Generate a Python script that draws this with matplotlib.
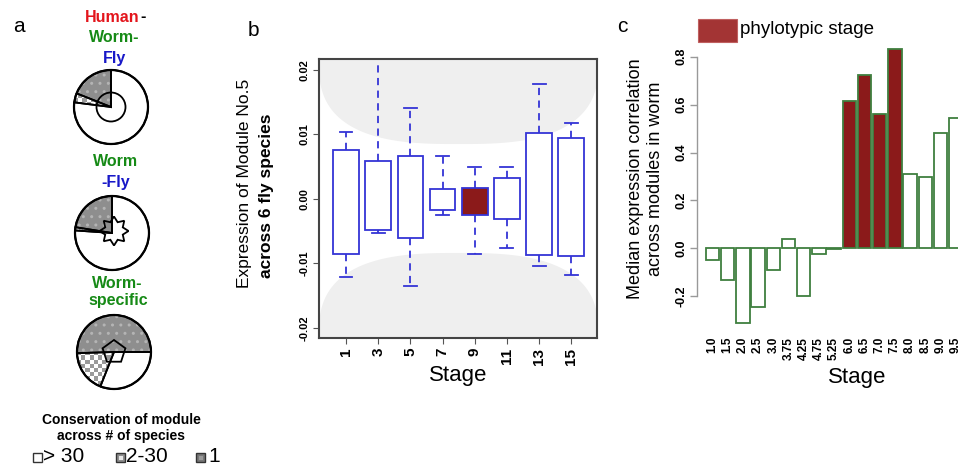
import numpy as np
import matplotlib
matplotlib.use("Agg")
import matplotlib.pyplot as plt
from matplotlib.patches import Wedge, Circle, Polygon, Rectangle, PathPatch
from matplotlib.path import Path

plt.rcParams['font.family'] = ['Liberation Sans', 'DejaVu Sans']
plt.rcParams['hatch.linewidth'] = 1.0

# ---------------- data ----------------
# panel a: sector fractions of each pie (gray dotted = 1 species, checker = 2-30, white = >30)
pie_names = ["Human-Worm-Fly", "Worm-Fly", "Worm-specific"]
pie_one = [0.19, 0.225, 0.505]
pie_mid = [0.04, 0.014, 0.185]
pie_many = [0.77, 0.761, 0.31]
legend_labels = ["> 30", "2-30", "1"]

# panel b: boxplot statistics per fly stage
stages_b = ["1", "3", "5", "7", "9", "11", "13", "15"]
whis_hi = [0.0103, 0.0235, 0.0141, 0.0066, 0.0050, 0.0050, 0.0178, 0.0117]
box_q3 = [0.0075, 0.0058, 0.0067, 0.0016, 0.0017, 0.0032, 0.0102, 0.0095]
box_q1 = [-0.0086, -0.0049, -0.0061, -0.0017, -0.0025, -0.0032, -0.0087, -0.0088]
whis_lo = [-0.0122, -0.0053, -0.0135, -0.0025, -0.0085, -0.0077, -0.0105, -0.0119]
phylo_b = ["9"]

# panel c: median expression correlation per worm stage
stages_c = ["1.0", "1.5", "2.0", "2.5", "3.0", "3.75", "4.25", "4.75", "5.25",
            "6.0", "6.5", "7.0", "7.5", "8.0", "8.5", "9.0", "9.5"]
corr_c = [-0.049, -0.132, -0.313, -0.244, -0.091, 0.038, -0.199, -0.025, -0.004,
          0.616, 0.724, 0.561, 0.832, 0.309, 0.299, 0.480, 0.545]
phylo_c = ["6.0", "6.5", "7.0", "7.5"]

# ---------------- figure ----------------
W, H = 958, 468
fig = plt.figure(figsize=(W / 100, H / 100), dpi=100)


def frect(l, t, r, b):
    return [l / W, 1 - b / H, (r - l) / W, (b - t) / H]


RED = '#e3151c'
GREEN = '#168a16'
BLUE = '#1818c8'
DARKRED = '#8b1a1a'

# ---------------- panel a ----------------
axa = fig.add_axes([0, 0, 235 / W, 1])
axa.set_xlim(0, 235)
axa.set_ylim(0, H)
axa.axis('off')


def Y(y):
    return H - y


def checker_fill(ax, cx, cy, r, clip, size=4.2):
    n = int(2 * r / size) + 2
    for i in range(n):
        for j in range(n):
            if (i + j) % 2 == 0:
                x0 = cx - r + i * size
                y0 = cy - r + j * size
                sq = Rectangle((x0, y0), size, size, facecolor='#9a9a9a',
                               edgecolor='none', zorder=2)
                ax.add_patch(sq)
                sq.set_clip_path(clip)


pie_centers = [(111, 107), (112, 233), (114, 352)]
pie_r = 37
pie_start = [90, 90, 0]
for k in range(3):
    cx, cy = pie_centers[k][0], Y(pie_centers[k][1])
    fr = [pie_one[k], pie_mid[k], pie_many[k]]
    a0 = pie_start[k]
    a1 = a0 + 360 * fr[0]
    a2 = a1 + 360 * fr[1]
    a3 = a2 + 360 * fr[2]
    # gray dotted sector
    wg = Wedge((cx, cy), pie_r, a0, a1, facecolor='#8e8e8e', edgecolor='none', zorder=1)
    axa.add_patch(wg)
    wh = Wedge((cx, cy), pie_r, a0, a1, facecolor='none', edgecolor='#b4b4b4',
               hatch='..', linewidth=0, zorder=1.5)
    axa.add_patch(wh)
    # checker sector
    wc = Wedge((cx, cy), pie_r, a1, a2, facecolor='white', edgecolor='none', zorder=1)
    axa.add_patch(wc)
    checker_fill(axa, cx, cy, pie_r, wc)
    # white sector
    axa.add_patch(Wedge((cx, cy), pie_r, a2, a3, facecolor='white', edgecolor='none', zorder=1))
    # outlines
    for t1, t2 in [(a0, a1), (a1, a2), (a2, a3)]:
        axa.add_patch(Wedge((cx, cy), pie_r, t1, t2, facecolor='none',
                            edgecolor='black', linewidth=1.3, zorder=3))
    axa.add_patch(Circle((cx, cy), pie_r, facecolor='none', edgecolor='black',
                         linewidth=1.6, zorder=4))

# inner symbols
c1 = pie_centers[0]
axa.add_patch(Circle((c1[0], Y(c1[1])), 14.5, facecolor='none', edgecolor='black',
                     linewidth=1.3, zorder=5))
c2 = pie_centers[1]
ang = np.deg2rad(np.arange(16) * 22.5 + 90)
rad = np.where(np.arange(16) % 2 == 0, 14.5, 9.5)
star = np.column_stack([c2[0] + 2 + rad * np.cos(ang), Y(c2[1] - 2) + rad * np.sin(ang)])
axa.add_patch(Polygon(star, closed=True, facecolor='none', edgecolor='black',
                      linewidth=1.3, zorder=5))
c3 = pie_centers[2]
ang = np.deg2rad(np.arange(5) * 72 + 90)
pent = np.column_stack([c3[0] + 12 * np.cos(ang), Y(c3[1]) + 12 * np.sin(ang)])
axa.add_patch(Polygon(pent, closed=True, facecolor='none', edgecolor='black',
                      linewidth=1.3, zorder=5))

tkw = dict(fontsize=11.5, fontweight='bold', va='center')
axa.text(19, Y(27), 'a', fontsize=15, ha='center', va='center')
axa.text(140, Y(17), 'Human', color=RED, ha='right', **tkw)
axa.text(140, Y(17), '-', color='black', ha='left', **tkw)
axa.text(114, Y(38), 'Worm-', color=GREEN, ha='center', **tkw)
axa.text(114, Y(58), 'Fly', color=BLUE, ha='center', **tkw)
axa.text(116, Y(162), 'Worm', color=GREEN, ha='center', **tkw)
axa.text(116, Y(182), '-Fly', color=BLUE, ha='center', **tkw)
axa.text(117, Y(283), 'Worm-', color=GREEN, ha='center', **tkw)
axa.text(118, Y(301), 'specific', color=GREEN, ha='center', **tkw)

axa.text(121, Y(420), 'Conservation of module', fontsize=10, fontweight='bold',
         ha='center', va='center')
axa.text(121, Y(436), 'across # of species', fontsize=10, fontweight='bold',
         ha='center', va='center')
sq_x = [33, 116, 196]
txt_x = [43, 126, 208]
sq_face = ['white', '#8e8e8e', '#777777']
sq_inner = [None, '#e8e8e8', '#9a9a9a']
for i, lab in enumerate(legend_labels):
    axa.add_patch(Rectangle((sq_x[i], Y(462)), 9, 9, facecolor=sq_face[i],
                            edgecolor='#333333', linewidth=1.0, zorder=3))
    if sq_inner[i]:
        axa.add_patch(Rectangle((sq_x[i] + 2.5, Y(462) + 2.5), 4, 4,
                                facecolor=sq_inner[i], edgecolor='none', zorder=4))
    axa.text(txt_x[i], Y(457), lab, fontsize=15, ha='left', va='center')

# ---------------- panel b ----------------
axb = fig.add_axes(frect(319, 59, 597, 338))
nb = len(stages_b)
xb = np.arange(nb)
axb.set_xlim(-0.84, nb - 1 + 0.8)
axb.set_ylim(-0.0216, 0.0217)


def soft_shape(y0, up):
    t = np.linspace(0, np.pi, 200)
    a, b, n = 4.35, 0.0133, 2.8
    xs = 3.5 + a * np.sign(np.cos(t)) * np.abs(np.cos(t)) ** (2 / n)
    ys = b * np.abs(np.sin(t)) ** (2 / n)
    ys = y0 + ys if up else y0 - ys
    verts = np.column_stack([xs, ys])
    return PathPatch(Path(verts), facecolor='#efefef', edgecolor='none', zorder=0)


axb.add_patch(soft_shape(-0.0217, True))
axb.add_patch(soft_shape(0.0218, False))

stats = []
for i in range(nb):
    stats.append(dict(med=box_q1[i], q1=box_q1[i], q3=box_q3[i],
                      whislo=whis_lo[i], whishi=whis_hi[i], fliers=[]))
BOXBLUE = '#3434d6'
bp = axb.bxp(stats, positions=xb, widths=0.8, patch_artist=True, showfliers=False,
             boxprops=dict(edgecolor=BOXBLUE, facecolor='white', linewidth=1.3),
             whiskerprops=dict(color=BOXBLUE, linewidth=1.3, linestyle=(0, (4, 3))),
             capprops=dict(color=BOXBLUE, linewidth=1.3),
             medianprops=dict(linewidth=0))
for lab, box in zip(stages_b, bp['boxes']):
    box.set_zorder(3)
    if lab in phylo_b:
        box.set_facecolor(DARKRED)
for ln in bp['whiskers'] + bp['caps']:
    ln.set_zorder(2)

axb.set_xticks(xb)
axb.set_xticklabels(stages_b, rotation=90, fontsize=11, fontweight='bold')
axb.set_yticks([-0.02, -0.01, 0.0, 0.01, 0.02])
axb.set_yticklabels(['-0.02', '-0.01', '0.00', '0.01', '0.02'], rotation=90,
                    fontsize=8, fontweight='bold', va='center')
axb.tick_params(axis='both', length=4, width=0.8, color='#555555', pad=3)
for sp in axb.spines.values():
    sp.set_color('#444444')
    sp.set_linewidth(1.5)
axb.set_facecolor('white')
fig.text(253 / W, 1 - 30 / H, 'b', fontsize=15, ha='center', va='center')
fig.text(245 / W, 1 - 183 / H, 'Expression of Module No.5', fontsize=12.5,
         rotation=90, ha='center', va='center')
fig.text(266 / W, 1 - 196 / H, 'across 6 fly species', fontsize=12.5, fontweight='bold',
         rotation=90, ha='center', va='center')
fig.text(458 / W, 1 - 376 / H, 'Stage', fontsize=16, ha='center', va='center')

# ---------------- panel c ----------------
top_px, bot_px = 30, 330
zero_px, per_unit = 248.3, 239.5
axc = fig.add_axes(frect(697, top_px, 958, bot_px))
nc = len(stages_c)
xc = np.arange(nc)
pitch = 15.2
axc.set_xlim((697 - 712.5) / pitch, (958 - 712.5) / pitch)
axc.set_ylim((zero_px - bot_px) / per_unit, (zero_px - top_px) / per_unit)
face_c = [DARKRED if s in phylo_c else 'white' for s in stages_c]
axc.bar(xc, corr_c, width=0.87, color=face_c, edgecolor='#3f7f3f', linewidth=1.3,
        zorder=2)
for sp in ['top', 'right', 'bottom']:
    axc.spines[sp].set_visible(False)
axc.spines['left'].set_bounds(-0.2, 0.8)
axc.spines['left'].set_color('#999999')
axc.spines['left'].set_linewidth(1.0)
axc.set_yticks([-0.2, 0.0, 0.2, 0.4, 0.6, 0.8])
axc.set_yticklabels(['-0.2', '0.0', '0.2', '0.4', '0.6', '0.8'], rotation=90,
                    fontsize=9, fontweight='bold', va='center')
axc.tick_params(axis='y', length=5, width=1.0, color='#999999', pad=2)
axc.set_xticks(xc)
axc.set_xticklabels(stages_c, rotation=90, fontsize=8.5, fontweight='bold')
axc.tick_params(axis='x', length=0, pad=5)
axc.patch.set_alpha(0)

fig.text(622 / W, 1 - 27 / H, 'c', fontsize=15, ha='center', va='center')
fig.text(636 / W, 1 - 179 / H, 'Median expression correlation', fontsize=13,
         rotation=90, ha='center', va='center')
fig.text(656 / W, 1 - 179 / H, 'across modules in worm', fontsize=13,
         rotation=90, ha='center', va='center')
fig.text(857 / W, 1 - 377 / H, 'Stage', fontsize=16, ha='center', va='center')
fig.patches.append(Rectangle((698 / W, 1 - 42 / H), 39 / W, 23 / H, facecolor='#a33434',
                             edgecolor='#c06060', linewidth=0.8,
                             transform=fig.transFigure, figure=fig))
fig.text(740 / W, 1 - 30 / H, 'phylotypic stage', fontsize=13.5, ha='left', va='center')

fig.savefig('out.png', dpi=100)
